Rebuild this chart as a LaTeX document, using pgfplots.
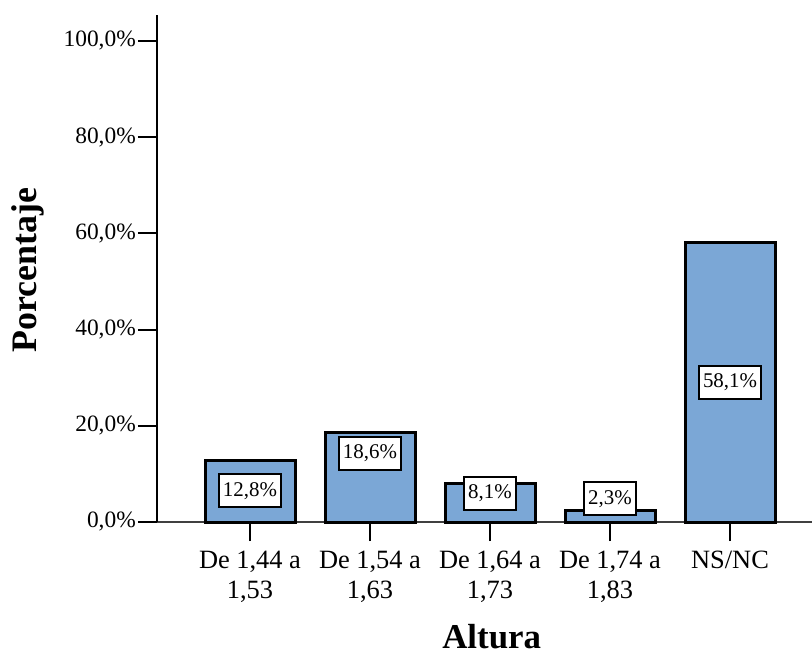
\documentclass[border=0pt]{standalone}
\usepackage{fontspec}
\setmainfont{Liberation Serif}
\usepackage{pgfplots}
\pgfplotsset{compat=1.18}
\definecolor{barblue}{RGB}{123,167,214}
\begin{document}
\begin{tikzpicture}
\path[use as bounding box] (-157bp,-135bp) rectangle (655bp,522bp);
\begin{axis}[
  at={(0,0)}, anchor=south west,
  scale only axis, width=655bp, height=507bp,
  xmin=-0.775, xmax=4.683, ymin=0, ymax=105.4,
  axis x line=bottom, axis y line=left,
  axis line style={-, line width=1.2bp, black},
  x axis line style={black!75},
  clip=false,
  tick align=outside,
  major tick length=19bp,
  tick style={black, line width=2bp},
  ytick={0,20,40,60,80,100},
  yticklabels={{0,0\%},{20,0\%},{40,0\%},{60,0\%},{80,0\%},{100,0\%}},
  xtick={0,1,2,3,4},
  xticklabels={{De 1,44 a\\1,53},{De 1,54 a\\1,63},{De 1,64 a\\1,73},{De 1,74 a\\1,83},{NS/NC}},
  yticklabel style={font=\fontsize{23.5}{27}\selectfont, inner xsep=2bp},
  xticklabel style={font=\fontsize{26.5}{30}\selectfont, align=center, anchor=north, inner ysep=10bp},
  xlabel={\bfseries Altura},
  ylabel={\bfseries Porcentaje},
  xlabel style={font=\fontsize{35}{40}\selectfont, at={(axis description cs:0.511,0)}, anchor=center, yshift=-115bp},
  ylabel style={font=\fontsize{36}{40}\selectfont, at={(axis description cs:-0.197,0.497)}, anchor=center},
]
\addplot[ybar, bar width=0.75, fill=barblue, draw=black, line width=3bp] coordinates {
  (0,12.8) (1,18.6) (2,8.1) (3,2.3) (4,58.1)
};
\addplot[draw=none, mark=none, nodes near coords, point meta=explicit symbolic,
  nodes near coords style={anchor=center, draw=black, fill=white, line width=2bp,
    font=\fontsize{21}{24}\selectfont, inner xsep=4bp, minimum height=33bp}]
  table[x=x, y=y, meta=lab] {
x y lab
0 6.45 12,8\%
1 14.3 18,6\%
2 6.0 8,1\%
3 4.8 2,3\%
4 29.1 58,1\%
};
\end{axis}
\end{tikzpicture}
\end{document}
